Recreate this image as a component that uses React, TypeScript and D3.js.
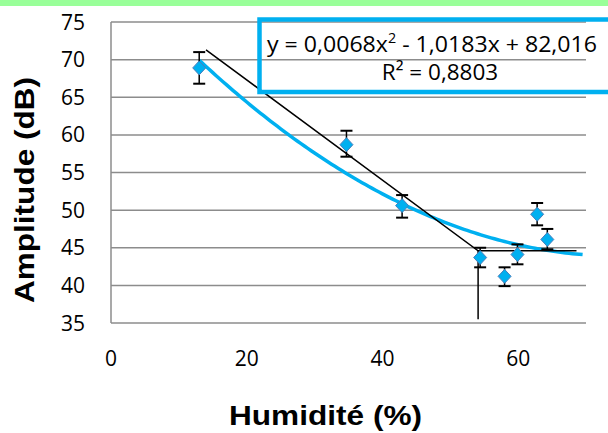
import React from "react";
import * as d3 from "d3";

const humidity = [13, 34.7, 42.9, 54.4, 58.0, 59.9, 62.8, 64.3];
const amplitude = [68.9, 58.7, 50.6, 43.7, 41.2, 44.1, 49.45, 46.1];
const errLow = [66.8, 57.1, 49.0, 42.4, 39.9, 42.8, 47.98, 44.8];
const errHigh = [71.0, 60.55, 52.0, 45.0, 42.4, 45.45, 50.95, 47.5];
const xTicks = [0, 20, 40, 60];
const yTicks = [35, 40, 45, 50, 55, 60, 65, 70, 75];
const segX = [14.0, 54.1, 68.6];
const segY = [71.3, 44.6, 44.6];
const segVertBottom = 35.5;
const polyCoef = [0.0068, -1.0183, 82.016];
const trendRange = [13, 69.7];
const equationText = "y = 0,0068x";
const equationRest = " - 1,0183x + 82,016";
const r2Text = "R² = 0,8803";

export default function App() {
  const W = 608, H = 433;
  const left = 111, right = 586, top = 22, bottom = 323;
  const x = d3.scaleLinear().domain([0, 70]).range([left, right]);
  const y = d3.scaleLinear().domain([35, 75]).range([bottom, top]);
  const curvePts = d3.range(trendRange[0], trendRange[1] + 0.001, 0.5).map((v) => [
    v,
    polyCoef[0] * v * v + polyCoef[1] * v + polyCoef[2],
  ]);
  const line = d3
    .line<number[]>()
    .x((d) => x(d[0]))
    .y((d) => y(d[1]));
  const tick = "'Open Sans', sans-serif";
  const bold = "'Liberation Sans', Arial, sans-serif";
  return (
    <svg
      width={W}
      height={H}
      style={{ position: "absolute", left: 0, top: 0, background: "#fff" }}
    >
      <rect x={0} y={0} width={W} height={6} fill="#99ff99" />
      {yTicks.map((t) => (
        <line key={t} x1={left} x2={right} y1={y(t)} y2={y(t)} stroke="#8c8c8c" strokeWidth={1.5} />
      ))}
      <line x1={left} x2={left} y1={top} y2={bottom} stroke="#8c8c8c" strokeWidth={1.5} />
      {yTicks.map((t) => (
        <text key={t} x={85} y={y(t)} dy="0.36em" textAnchor="end" fontSize={21} fontFamily={tick} fill="#000">
          {t}
        </text>
      ))}
      {xTicks.map((t) => (
        <text key={t} x={x(t)} y={358} dy="0.36em" textAnchor="middle" fontSize={21} fontFamily={tick} fill="#000">
          {t}
        </text>
      ))}
      <text
        x={229}
        y={425}
        fontSize={28}
        fontWeight="bold"
        fontFamily={bold}
        textLength={193}
        lengthAdjust="spacingAndGlyphs"
      >
        Humidité (%)
      </text>
      <text
        transform="translate(34,303) rotate(-90)"
        fontSize={28}
        fontWeight="bold"
        fontFamily={bold}
        textLength={226}
        lengthAdjust="spacingAndGlyphs"
      >
        Amplitude (dB)
      </text>
      <path d={line(curvePts) || ""} fill="none" stroke="#00b0f0" strokeWidth={3.5} />
      <path
        d={line(segX.map((v, i) => [v, segY[i]])) || ""}
        fill="none"
        stroke="#000"
        strokeWidth={1.5}
      />
      <line x1={x(segX[1])} x2={x(segX[1])} y1={y(segY[1])} y2={y(segVertBottom)} stroke="#000" strokeWidth={1.5} />
      {humidity.map((h, i) => (
        <g key={i}>
          <line x1={x(h)} x2={x(h)} y1={y(errLow[i])} y2={y(errHigh[i])} stroke="#000" strokeWidth={1.5} />
          <line x1={x(h) - 6} x2={x(h) + 6} y1={y(errLow[i])} y2={y(errLow[i])} stroke="#000" strokeWidth={2} />
          <line x1={x(h) - 6} x2={x(h) + 6} y1={y(errHigh[i])} y2={y(errHigh[i])} stroke="#000" strokeWidth={2} />
          <path
            d={`M${x(h)},${y(amplitude[i]) - 7}l6.5,7l-6.5,7l-6.5,-7z`}
            fill="#00b0f0"
            stroke="#4a7ebb"
            strokeWidth={1}
          />
        </g>
      ))}
      <rect x={259.5} y={19.5} width={360} height={72.5} fill="none" stroke="#00b0f0" strokeWidth={4.5} />
      <text x={267} y={52} fontSize={22.5} fontFamily={tick} fill="#000" textLength={330} lengthAdjust="spacingAndGlyphs">
        {equationText}
        <tspan dy={-9} fontSize={14}>2</tspan>
        <tspan dy={9}>{equationRest}</tspan>
      </text>
      <text x={440} y={80} textAnchor="middle" fontSize={22.5} fontFamily={tick} fill="#000">
        {r2Text}
      </text>
    </svg>
  );
}
